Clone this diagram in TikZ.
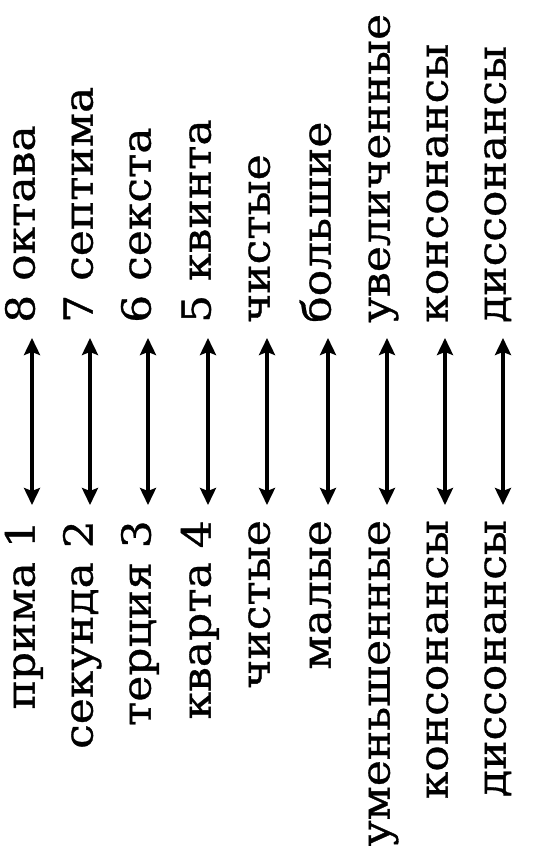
\documentclass[tikz,border=0pt]{standalone}
\usepackage{fontspec}
\setmainfont{DejaVu Serif}[FakeStretch=1.1, FakeBold=0.8]
\usetikzlibrary{arrows.meta}
\tikzset{
  lefttxt/.style={rotate=90, anchor=mid east, inner sep=0pt, font=\fontsize{40}{48}\selectfont},
  righttxt/.style={rotate=90, anchor=mid west, inner sep=0pt, font=\fontsize{40}{48}\selectfont},
  link/.style={{Stealth[length=17pt,width=16pt,inset=3pt]}-{Stealth[length=17pt,width=16pt,inset=3pt]}, line width=3.5pt, shorten <=15pt, shorten >=15pt}
}
\begin{document}
\begin{tikzpicture}[x=1pt,y=-1pt]
\useasboundingbox (0,0) rectangle (543,857);
\foreach \i/\x/\l/\r in {1/32/прима 1/8 октава, 2/90/секунда 2/7 септима, 3/148/терция 3/6 секста, 4/208/кварта 4/5 квинта, 5/267/чистые/чистые, 6/328/малые/большие, 7/387/уменьшенные/увеличенные, 8/445/консонансы/консонансы, 9/503/диссонансы/диссонансы}{
  \node[lefttxt] (l\i) at (\x,520) {\l};
  \node[righttxt] (r\i) at (\x,323) {\r};
  \draw[link] (l\i.mid east) -- (r\i.mid west);
}
\end{tikzpicture}
\end{document}
